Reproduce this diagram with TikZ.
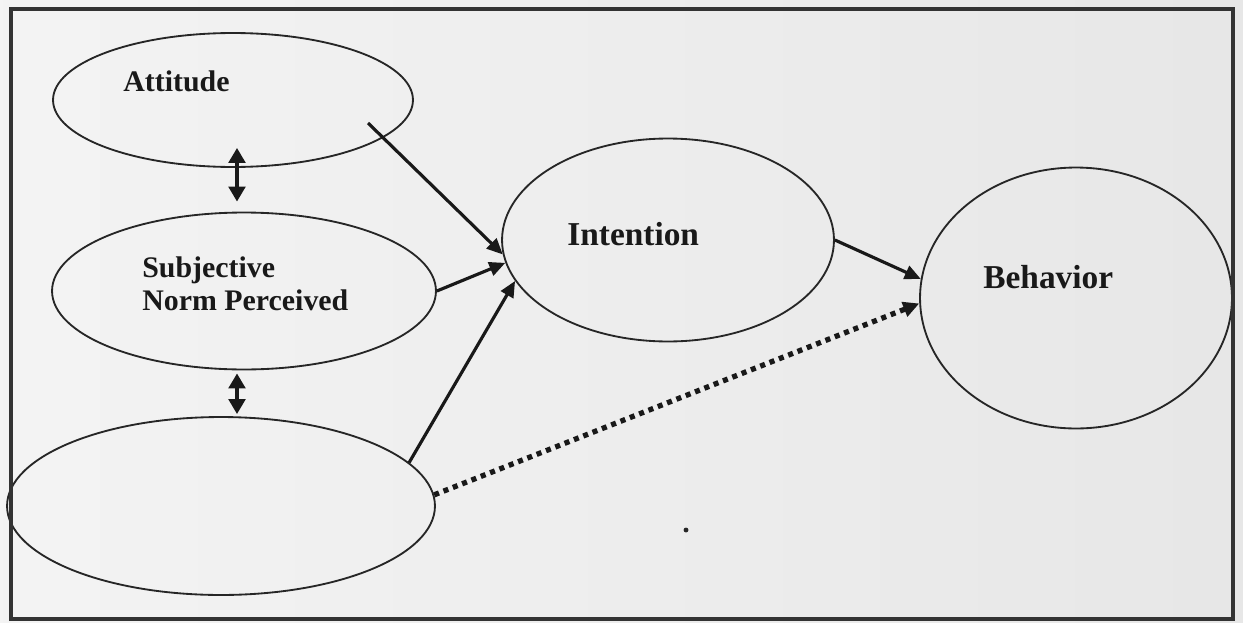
\documentclass[tikz,border=0pt]{standalone}
\usepackage{fontspec}
\setmainfont{Liberation Serif}
\usetikzlibrary{shapes.geometric,arrows.meta,calc}

\begin{document}
\begin{tikzpicture}[x=0.02cm,y=-0.02cm,
  blob/.style={draw=black!85,line width=1.05pt,ellipse,inner sep=0pt},
  lab/.style={font=\bfseries\fontsize{17}{18.8}\selectfont,inner sep=0pt,text=black!90},
  biglab/.style={lab,font=\bfseries\fontsize{19}{22}\selectfont},
  arr/.style={line width=1.8pt,draw=black!90,-{Triangle[length=3.2mm,width=2.8mm]}},
  dbl/.style={line width=2.2pt,draw=black!90,
    {Triangle[length=3mm,width=3.3mm]}-{Triangle[length=3mm,width=3.3mm]}},
  dotarr/.style={line width=3pt,draw=black!90,dash pattern=on 2.9pt off 2.8pt,
    -{Triangle[length=3.2mm,width=3mm]}}]
\useasboundingbox (0,0) rectangle (1243,622);
\shade[left color=gray!9,right color=gray!19] (0,0) rectangle (1243,622);

% Ellipses: centre and full axes.
\node[blob,minimum width=7.2cm,minimum height=2.68cm] (att) at (233,100) {};
\node[blob,minimum width=7.68cm,minimum height=3.14cm] (subj) at (244,291) {};
\node[blob,minimum width=8.56cm,minimum height=3.56cm] (oth) at (221,506) {};
\node[blob,minimum width=6.64cm,minimum height=4.06cm] (int) at (668,240) {};
\node[blob,minimum width=6.24cm,minimum height=5.22cm] (beh) at (1076,298) {};

% Labels sit left of centre, as in the original.
\node[lab,anchor=base west] (att-txt) at (123,91) {Attitude};
\node[lab,anchor=north west,align=left] (subj-txt) at (142,256)
  {Subjective\\Norm Perceived};
\node[biglab,anchor=base west] (int-txt) at (567,245) {Intention};
\node[biglab,anchor=base west] (beh-txt) at (983,288) {Behavior};

% Correlations between the three antecedents.
\draw[dbl] ($(att.south)+(4,-20)$) -- ($(subj.north)+(-7,-10)$);
\draw[dbl] ($(subj.south)+(-7,3)$) -- ($(oth.north)+(16,-2)$);

% Paths into intention, then on to behavior.
\coordinate (att-out) at (368,123);
\foreach \src/\ang in {att-out/185,subj.east/188,oth.13/195}
  \draw[arr] (\src) -- (int.\ang);
\draw[arr] (int.east) -- (beh.173);
\draw[dotarr] (oth.3) -- (beh.182);

\fill[black!85] (686,530) circle[radius=1.4pt];
\draw[line width=1.9pt,black!80] (11,9) rectangle (1233,619);
\end{tikzpicture}
\end{document}
